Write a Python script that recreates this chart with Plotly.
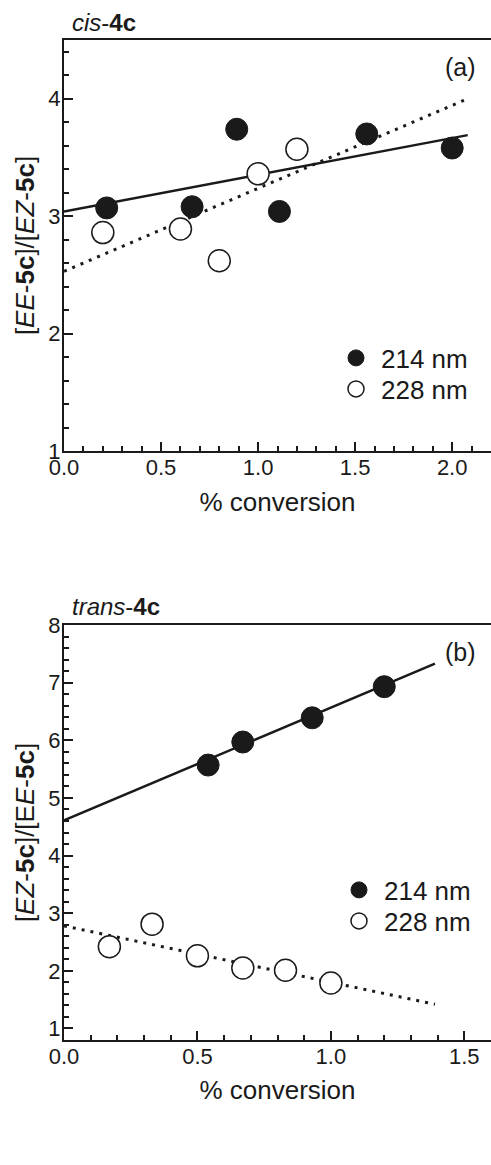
import plotly.graph_objects as go

# ---- data (panel a: cis-4c) ----
a_x_214 = [0.22, 0.66, 0.89, 1.11, 1.56, 2.00]
a_y_214 = [3.07, 3.08, 3.74, 3.04, 3.70, 3.58]
a_x_228 = [0.20, 0.60, 0.80, 1.00, 1.20]
a_y_228 = [2.86, 2.89, 2.62, 3.36, 3.57]
a_fit_x = [0.0, 2.08]
a_fit_214 = [3.04, 3.69]
a_fit_228 = [2.53, 4.00]

# ---- data (panel b: trans-4c) ----
b_x_214 = [0.54, 0.67, 0.93, 1.20]
b_y_214 = [5.57, 5.97, 6.39, 6.93]
b_x_228 = [0.17, 0.33, 0.50, 0.67, 0.83, 1.00]
b_y_228 = [2.42, 2.81, 2.26, 2.05, 2.01, 1.79]
b_fit_x = [0.0, 1.39]
b_fit_214 = [4.61, 7.33]
b_fit_228 = [2.78, 1.42]

a_xticks = [0.0, 0.5, 1.0, 1.5, 2.0]
a_yticks = [1, 2, 3, 4]
b_xticks = [0.0, 0.5, 1.0, 1.5]
b_yticks = [1, 2, 3, 4, 5, 6, 7, 8]

INK = "#1a1a1a"
FONT = "Liberation Sans, Arial, sans-serif"
W, H = 491, 1165

fig = go.Figure()

def add_panel(xa, ya, legs, fx, f214, f228, x214, y214, x228, y228):
    fig.add_trace(go.Scatter(x=fx, y=f214, mode="lines", line=dict(color=INK, width=2.5),
                             showlegend=False, xaxis=xa, yaxis=ya, hoverinfo="skip"))
    fig.add_trace(go.Scatter(x=fx, y=f228, mode="lines", line=dict(color=INK, width=3, dash="3px,6px"),
                             showlegend=False, xaxis=xa, yaxis=ya, hoverinfo="skip"))
    fig.add_trace(go.Scatter(x=x214, y=y214, mode="markers", name="214 nm",
                             marker=dict(symbol="circle", size=22, color=INK, line=dict(color=INK, width=1)),
                             xaxis=xa, yaxis=ya, legend=legs[0]))
    fig.add_trace(go.Scatter(x=x228, y=y228, mode="markers", name="228 nm",
                             marker=dict(symbol="circle", size=22, color="white", line=dict(color=INK, width=1.5)),
                             xaxis=xa, yaxis=ya, legend=legs[1]))

add_panel("x", "y", ["legend", "legend2"], a_fit_x, a_fit_214, a_fit_228, a_x_214, a_y_214, a_x_228, a_y_228)
add_panel("x2", "y2", ["legend3", "legend4"], b_fit_x, b_fit_214, b_fit_228, b_x_214, b_y_214, b_x_228, b_y_228)

def xaxis(domain_anchor, rng, ticks, standoff):
    return dict(domain=[64 / W, 1.0], anchor=domain_anchor, range=rng, tickmode="array",
                tickvals=ticks, ticktext=[f"{t:.1f}" for t in ticks], automargin=False,
                ticks="inside", ticklen=9, tickwidth=1.5, tickcolor=INK,
                minor=dict(dtick=0.1, ticks="inside", ticklen=5, tickwidth=1.5, tickcolor=INK),
                showline=True, linecolor=INK, linewidth=2, mirror=True,
                showgrid=False, zeroline=False, ticklabelstandoff=-4,
                tickfont=dict(family=FONT, size=22, color=INK),
                title=dict(text="% conversion", font=dict(family=FONT, size=26, color=INK), standoff=standoff))

def yaxis(domain, anchor, rng, ticks, title):
    return dict(domain=domain, anchor=anchor, range=rng, tickmode="array", tickvals=ticks,
                automargin=False,
                ticks="inside", ticklen=9, tickwidth=1.5, tickcolor=INK,
                minor=dict(dtick=0.2, ticks="inside", ticklen=5, tickwidth=1.5, tickcolor=INK),
                showline=True, linecolor=INK, linewidth=2, mirror=False,
                showgrid=False, zeroline=False, ticklabelstandoff=-3,
                tickfont=dict(family=FONT, size=22, color=INK),
                title=dict(text=title, font=dict(family=FONT, size=26, color=INK), standoff=6))

def leg(px, py):
    return dict(x=px / W, y=1 - py / H, xanchor="left", yanchor="middle",
                font=dict(family=FONT, size=26, color=INK), bgcolor="rgba(0,0,0,0)",
                itemwidth=40)

fig.update_layout(
    width=W, height=H, autosize=False,
    margin=dict(l=0, r=0, t=0, b=0, autoexpand=False),
    paper_bgcolor="white", plot_bgcolor="white",
    font=dict(family=FONT, color=INK),
    xaxis=xaxis("y", [0, 2.2], a_xticks, 13),
    yaxis=yaxis([1 - 451 / H, 1 - 40 / H], "x", [1, 4.5], a_yticks,
                "[<i>EE</i>-<b>5c</b>]/[<i>EZ</i>-<b>5c</b>]"),
    xaxis2=xaxis("y2", [0, 1.6], b_xticks, 12),
    yaxis2=yaxis([1 - 1040 / H, 1 - 625 / H], "x2", [0.8, 8], b_yticks,
                 "[<i>EZ</i>-<b>5c</b>]/[E<i>E</i>-<b>5c</b>]"),
    legend=leg(331, 358),
    legend2=leg(331, 389),
    legend3=leg(334, 890),
    legend4=leg(334, 921),
    annotations=[
        dict(text="<i>cis</i>-<b>4c</b>", x=70 / W, y=1 - 22 / H, xref="paper", yref="paper",
             xanchor="left", yanchor="middle", showarrow=False,
             font=dict(family=FONT, size=24, color=INK)),
        dict(text="<i>trans</i>-<b>4c</b>", x=70 / W, y=1 - 606 / H, xref="paper", yref="paper",
             xanchor="left", yanchor="middle", showarrow=False,
             font=dict(family=FONT, size=24, color=INK)),
        dict(text="(a)", x=478 / W, y=1 - 67 / H, xref="paper", yref="paper",
             xanchor="right", yanchor="middle", showarrow=False,
             font=dict(family=FONT, size=25, color=INK)),
        dict(text="(b)", x=478 / W, y=1 - 652 / H, xref="paper", yref="paper",
             xanchor="right", yanchor="middle", showarrow=False,
             font=dict(family=FONT, size=25, color=INK)),
    ],
)

fig.write_html("out.html", config={"displayModeBar": False},
               post_script="document.body.style.margin='0';document.body.style.overflow='hidden';")
